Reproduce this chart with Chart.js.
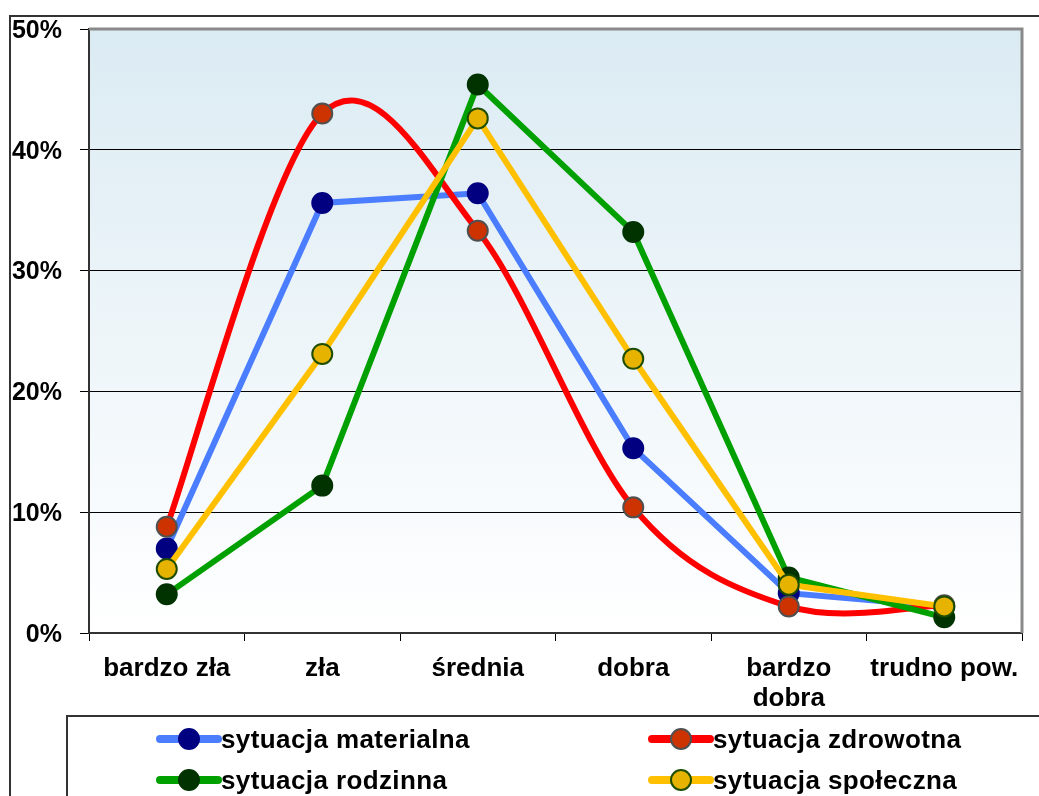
<!DOCTYPE html>
<html><head><meta charset="utf-8">
<script src="https://cdn.jsdelivr.net/npm/chart.js@4.4.1/dist/chart.umd.min.js"></script>
<style>html,body{margin:0;padding:0;background:#fff;overflow:hidden}canvas{display:block}</style>
</head><body>
<canvas id="c" width="1039" height="796"></canvas>
<script>
const categories = ['bardzo zła', 'zła', 'średnia', 'dobra', ['bardzo', 'dobra'], 'trudno pow.'];
const seriesNames = ['sytuacja materialna', 'sytuacja zdrowotna', 'sytuacja rodzinna', 'sytuacja społeczna'];
const materialna = [7.0, 35.6, 36.4, 15.3, 3.3, 2.2];
const zdrowotna = [8.8, 43.0, 33.3, 10.4, 2.2, 2.3];
const rodzinna = [3.2, 12.2, 45.4, 33.2, 4.6, 1.3];
const spoleczna = [5.3, 23.1, 42.6, 22.7, 4.0, 2.2];
const yTicks = [0, 10, 20, 30, 40, 50];

const FAMILY = "'Liberation Sans', Arial, sans-serif";
const YFONT = {family: FAMILY, size: 25, weight: 'bold', lineHeight: 0.5};
const XFONT = {family: FAMILY, size: 26, weight: 'bold', lineHeight: 1.15};

const styles = [
  {line: '#4a7dff', fill: '#000080', border: '#000080', smooth: false, order: 3},
  {line: '#ff0000', fill: '#cc3300', border: '#505050', smooth: true, order: 2},
  {line: '#00a000', fill: '#003300', border: '#003300', smooth: false, order: 1},
  {line: '#ffc000', fill: '#e6b400', border: '#1e4d00', smooth: false, order: 0}
];
const seriesData = [materialna, zdrowotna, rodzinna, spoleczna];

const datasets = seriesData.map((d, i) => ({
  label: seriesNames[i],
  data: d,
  borderColor: styles[i].line,
  backgroundColor: styles[i].fill,
  pointBackgroundColor: styles[i].fill,
  pointBorderColor: styles[i].border,
  pointBorderWidth: 2,
  pointRadius: 10,
  borderWidth: 6,
  tension: styles[i].smooth ? 0.4 : 0,
  excelSmooth: styles[i].smooth,
  order: styles[i].order,
  fill: false
}));

const decor = {
  id: 'decor',
  beforeDraw(chart) {
    const {ctx, chartArea: a} = chart;
    const g = ctx.createLinearGradient(0, a.top, 0, a.bottom);
    g.addColorStop(0, '#dbebf3');
    g.addColorStop(1, '#ffffff');
    ctx.save();
    ctx.fillStyle = g;
    ctx.fillRect(a.left, a.top, a.right - a.left, a.bottom - a.top);
    ctx.restore();
  },
  beforeDatasetsDraw(chart) {
    const {ctx, chartArea: a} = chart;
    // Excel-like smoothing (Catmull-Rom control points) for smoothed series
    chart.data.datasets.forEach((ds, i) => {
      if (!ds.excelSmooth) return;
      const meta = chart.getDatasetMeta(i);
      const line = meta.dataset;
      if (line && line.updateControlPoints) line.updateControlPoints(a, 'x');
      const pts = meta.data, n = pts.length;
      for (let k = 0; k < n; k++) {
        const p = pts[k];
        const prev = pts[Math.max(k - 1, 0)], next = pts[Math.min(k + 1, n - 1)];
        const dx = (next.x - prev.x) / 6, dy = (next.y - prev.y) / 6;
        p.cp1x = p.x - dx; p.cp1y = p.y - dy;
        p.cp2x = p.x + dx; p.cp2y = p.y + dy;
      }
      if (line) line._path = undefined;
    });
    ctx.save();
    ctx.strokeStyle = '#8a8a8a';
    ctx.lineWidth = 3;
    ctx.beginPath();
    ctx.moveTo(a.left, a.top);
    ctx.lineTo(a.right, a.top);
    ctx.lineTo(a.right, a.bottom);
    ctx.stroke();
    ctx.restore();
  },
  afterDraw(chart) {
    const ctx = chart.ctx;
    ctx.save();
    ctx.strokeStyle = '#333333';
    ctx.lineWidth = 2;
    ctx.beginPath();
    ctx.moveTo(10, 810); ctx.lineTo(10, 16); ctx.lineTo(1050, 16);
    ctx.stroke();
    ctx.beginPath();
    ctx.moveTo(67, 810); ctx.lineTo(67, 716); ctx.lineTo(1050, 716);
    ctx.stroke();
    const colX = [160, 652], rowY = [739, 780];
    chart.data.datasets.forEach((ds, i) => {
      const x = colX[i % 2], y = rowY[Math.floor(i / 2)];
      ctx.strokeStyle = ds.borderColor;
      ctx.lineWidth = 8;
      ctx.lineCap = 'round';
      ctx.beginPath(); ctx.moveTo(x, y); ctx.lineTo(x + 58, y); ctx.stroke();
      ctx.beginPath(); ctx.arc(x + 29, y, 10, 0, Math.PI * 2);
      ctx.fillStyle = ds.pointBackgroundColor; ctx.fill();
      ctx.lineWidth = 2; ctx.strokeStyle = ds.pointBorderColor; ctx.stroke();
      ctx.fillStyle = '#000';
      ctx.font = "bold 26px " + FAMILY;
      try { ctx.letterSpacing = '0.4px'; } catch (e) {}
      ctx.textBaseline = 'middle';
      ctx.textAlign = 'left';
      ctx.fillText(ds.label, x + 61, y + 2);
      try { ctx.letterSpacing = '0px'; } catch (e) {}
    });
    ctx.restore();
  }
};

new Chart(document.getElementById('c'), {
  type: 'line',
  data: {labels: categories, datasets},
  options: {
    responsive: false,
    devicePixelRatio: 1,
    animation: false,
    layout: {padding: {top: 29, right: 17, left: 0, bottom: 0}},
    plugins: {legend: {display: false}, tooltip: {enabled: false}},
    scales: {
      x: {
        offset: true,
        grid: {offset: true, drawOnChartArea: false, tickLength: 8, tickColor: '#000', lineWidth: 1},
        border: {color: '#333', width: 2},
        ticks: {color: '#000', font: XFONT, padding: 13, maxRotation: 0, autoSkip: false},
        afterFit(s) { s.height = 163; }
      },
      y: {
        min: 0, max: 50,
        afterBuildTicks(s) { s.ticks = yTicks.map(v => ({value: v})); },
        grid: {
          color: c => (c.tick && c.tick.value > 0 && c.tick.value < 50) ? '#000' : 'rgba(0,0,0,0)',
          tickColor: '#000', tickLength: 9, lineWidth: 1
        },
        border: {color: '#333', width: 2},
        ticks: {color: '#000', font: YFONT, padding: 18, labelOffset: 2, callback: v => v + '%'},
        afterFit(s) { s.width = 89; }
      }
    }
  },
  plugins: [decor]
});
</script>
</body></html>
